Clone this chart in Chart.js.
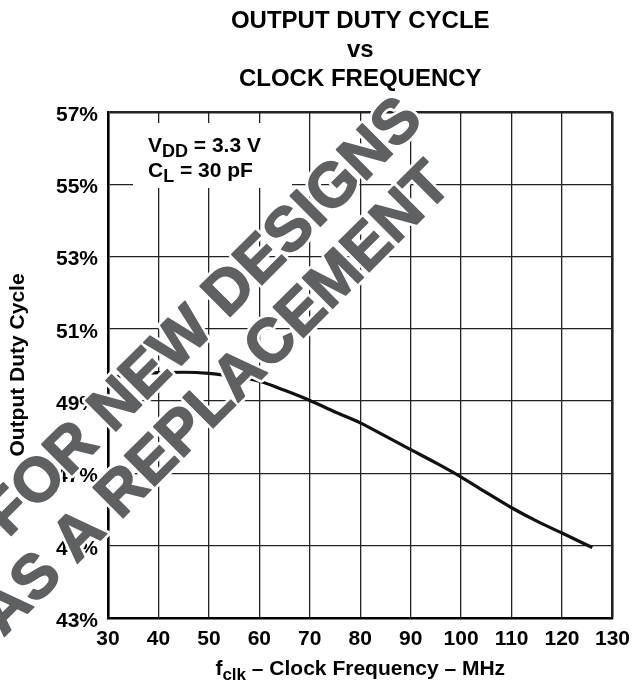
<!DOCTYPE html>
<html>
<head>
<meta charset="utf-8">
<script src="https://cdn.jsdelivr.net/npm/chart.js@4"></script>
<style>
  html, body { margin: 0; padding: 0; background: #fff; }
</style>
</head>
<body>
<canvas id="dutyChart" width="639" height="683"></canvas>
<script>
// data
const freqMHz = [30, 35, 40, 45, 50, 55, 60, 65, 70, 75, 80, 85, 90, 95, 100, 105, 110, 115, 120, 126];
const dutyPct = [49.65, 49.74, 49.79, 49.80, 49.77, 49.68, 49.55, 49.30, 49.02, 48.70, 48.40, 48.03, 47.66, 47.29, 46.90, 46.47, 46.05, 45.68, 45.35, 44.95];

// axis ticks
const xTicks = [30, 40, 50, 60, 70, 80, 90, 100, 110, 120, 130];
const yTicks = [43, 45, 47, 49, 51, 53, 55, 57];

// texts
const titleLines = ['OUTPUT DUTY CYCLE', 'vs', 'CLOCK FREQUENCY'];
const condLines = [['V', 'DD', ' = 3.3 V'], ['C', 'L', ' = 30 pF']];
const xTitle = ['f', 'clk', ' \u2013 Clock Frequency \u2013 MHz'];
const yTitle = 'Output Duty Cycle';
const watermarkLines = ['FOR NEW DESIGNS', 'AS A REPLACEMENT'];

const FONT = '"Liberation Sans", Arial, Helvetica, sans-serif';
Chart.defaults.font.family = FONT;
Chart.defaults.color = '#000';

/**
 * @brief draws text with a subscript part: [main, sub, rest]
 */
function drawSub(ctx, parts, x, y, size, subSize) {
  let cx = x;
  ctx.font = 'bold ' + size + 'px ' + FONT;
  ctx.fillText(parts[0], cx, y);
  cx += ctx.measureText(parts[0]).width;
  ctx.font = 'bold ' + subSize + 'px ' + FONT;
  ctx.fillText(parts[1], cx, y + 5);
  cx += ctx.measureText(parts[1]).width;
  ctx.font = 'bold ' + size + 'px ' + FONT;
  ctx.fillText(parts[2], cx, y);
}

function subWidth(ctx, parts, size, subSize) {
  ctx.font = 'bold ' + size + 'px ' + FONT;
  let w = ctx.measureText(parts[0]).width + ctx.measureText(parts[2]).width;
  ctx.font = 'bold ' + subSize + 'px ' + FONT;
  return w + ctx.measureText(parts[1]).width;
}

// title, conditions box, x title and watermark
const decorPlugin = {
  id: 'decor',
  beforeDatasetsDraw(chart) {
    const ctx = chart.ctx;
    ctx.save();
    // white box behind the conditions, it hides the grid
    ctx.fillStyle = '#fff';
    ctx.fillRect(133, 123, 159, 65);
    ctx.fillStyle = '#000';
    ctx.textAlign = 'left';
    ctx.textBaseline = 'alphabetic';
    drawSub(ctx, condLines[0], 148, 152, 21, 18);
    drawSub(ctx, condLines[1], 148, 177, 21, 18);
    ctx.restore();
  },
  afterDraw(chart) {
    const ctx = chart.ctx;
    const area = chart.chartArea;
    const xs = chart.scales.x;
    const ys = chart.scales.y;
    const midX = (area.left + area.right) / 2;

    ctx.save();
    ctx.fillStyle = '#000';
    ctx.textAlign = 'center';
    ctx.textBaseline = 'alphabetic';
    ctx.font = 'bold 24px ' + FONT;
    titleLines.forEach((t, i) => ctx.fillText(t, midX, 28 + i * 29));

    // x axis title with subscript
    ctx.textAlign = 'left';
    const w = subWidth(ctx, xTitle, 21, 17);
    drawSub(ctx, xTitle, midX - w / 2, 675, 21, 17);

    // watermark on top of everything
    const wmPos = [[49.1, 51.3], [51.5, 49.03]];
    ctx.font = 'bold 62px ' + FONT;
    ctx.textAlign = 'center';
    ctx.textBaseline = 'middle';
    ctx.lineJoin = 'round';
    watermarkLines.forEach((t, i) => {
      ctx.save();
      ctx.translate(xs.getPixelForValue(wmPos[i][0]), ys.getPixelForValue(wmPos[i][1]));
      ctx.rotate(-Math.PI / 4);
      ctx.strokeStyle = '#fff';
      ctx.lineWidth = 7;
      ctx.strokeText(t, 0, 0);
      ctx.strokeStyle = '#5e6062';
      ctx.lineWidth = 1.6;
      ctx.strokeText(t, 0, 0);
      ctx.fillStyle = '#5e6062';
      ctx.fillText(t, 0, 0);
      ctx.restore();
    });
    ctx.restore();
  }
};

const dutyChart = new Chart('dutyChart', {
  type: 'line',
  data: {
    datasets: [{
      data: freqMHz.map((f, i) => ({ x: f, y: dutyPct[i] })),
      borderColor: '#111',
      borderWidth: 3.2,
      pointRadius: 0,
      fill: false,
      cubicInterpolationMode: 'monotone'
    }]
  },
  options: {
    responsive: false,
    animation: false,
    devicePixelRatio: 1,
    layout: { padding: { top: 112, left: 0, right: 23, bottom: 0 } },
    plugins: {
      legend: { display: false },
      tooltip: { enabled: false }
    },
    scales: {
      x: {
        type: 'linear',
        min: xTicks[0],
        max: xTicks[xTicks.length - 1],
        afterBuildTicks: s => { s.ticks = xTicks.map(v => ({ value: v })); },
        afterFit: s => { s.height = 65; },
        grid: {
          color: '#222',
          lineWidth: c => (c.tick && c.tick.value === xTicks[xTicks.length - 1]) ? 2.6 : 1.3,
          drawTicks: false
        },
        border: { color: '#000', width: 2.6 },
        ticks: {
          padding: 9,
          maxRotation: 0,
          font: { size: 21, weight: 'bold' }
        }
      },
      y: {
        min: yTicks[0],
        max: yTicks[yTicks.length - 1],
        afterBuildTicks: s => { s.ticks = yTicks.map(v => ({ value: v })); },
        afterFit: s => { s.width = 108; },
        grid: {
          color: '#222',
          lineWidth: c => (c.tick && c.tick.value === yTicks[yTicks.length - 1]) ? 2.6 : 1.3,
          drawTicks: false
        },
        border: { color: '#000', width: 2.6 },
        ticks: {
          padding: 10,
          labelOffset: 3,
          font: { size: 21, weight: 'bold' },
          callback: v => v + '%'
        },
        title: {
          display: true,
          text: yTitle,
          padding: { top: 6, bottom: 0 },
          font: { size: 21, weight: 'bold' }
        }
      }
    }
  },
  plugins: [decorPlugin]
});
</script>
</body>
</html>
